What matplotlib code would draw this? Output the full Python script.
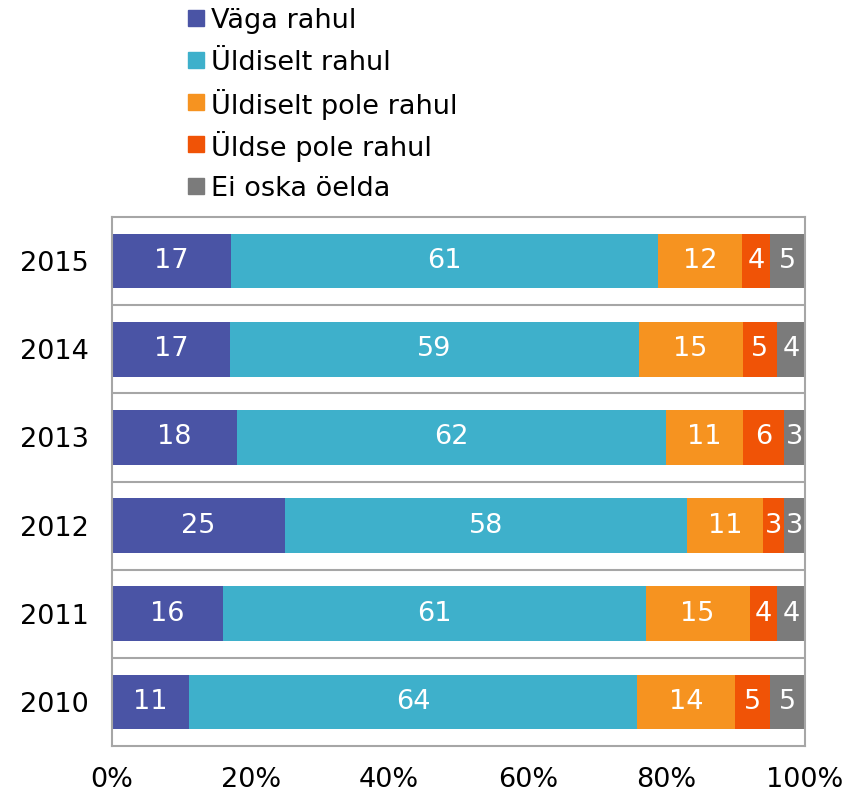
"""Satisfaction by year, 100% stacked horizontal bars."""

import matplotlib
import numpy as np

matplotlib.use("Agg")
from matplotlib import pyplot as plt
from matplotlib.patches import Rectangle
from matplotlib.ticker import FuncFormatter

years = ["2015", "2014", "2013", "2012", "2011", "2010"]
categories = [
    "Väga rahul",
    "Üldiselt rahul",
    "Üldiselt pole rahul",
    "Üldse pole rahul",
    "Ei oska öelda",
]
vaga_rahul = [17, 17, 18, 25, 16, 11]
uldiselt_rahul = [61, 59, 62, 58, 61, 64]
uldiselt_pole = [12, 15, 11, 11, 15, 14]
uldse_pole = [4, 5, 6, 3, 4, 5]
ei_oska = [5, 4, 3, 3, 4, 5]
colors = ["#4A54A5", "#3EB0CB", "#F69320", "#F05306", "#7B7B7B"]

plt.rcParams["font.family"] = ["DejaVu Sans"]
FS = 19.5

series = np.array([vaga_rahul, uldiselt_rahul, uldiselt_pole, uldse_pole, ei_oska], float)
shares = series / series.sum(axis=0)

W, H = 861, 794
fig = plt.figure(figsize=(W / 100, H / 100), dpi=100)
ax = fig.add_axes([112 / W, 1 - 746 / H, 693 / W, 529 / H])

y = np.arange(len(years))[::-1]
left = np.zeros(len(years))
for values, share, color, label in zip(series, shares, colors, categories):
    ax.barh(y, share, left=left, height=0.62, color=color, label=label,
            edgecolor="none")
    for yi, lft, w, v in zip(y, left, share, values):
        ax.text(lft + w / 2, yi, f"{int(v)}", ha="center", va="center",
                color="white", fontsize=FS)
    left += share

ax.set_xlim(0, 1)
ax.set_ylim(-0.5, len(years) - 0.5)
ax.set_yticks(y)
ax.set_yticklabels(years, fontsize=FS)
ax.set_xticks(np.linspace(0, 1, 6))
ax.xaxis.set_major_formatter(FuncFormatter(lambda v, _: f"{v:.0%}"))
ax.tick_params(axis="x", labelsize=FS, length=0, pad=15)
ax.tick_params(axis="y", length=0, pad=17)

for boundary in np.arange(0.5, len(years) - 0.5, 1):
    ax.axhline(boundary, color="#A6A6A6", linewidth=1.5, zorder=0)
for spine in ax.spines.values():
    spine.set_color("#A6A6A6")
    spine.set_linewidth(1.5)

# legend drawn by hand so the rows keep an even step
for i, (label, color) in enumerate(zip(categories, colors)):
    cy = 1 - (18 + 42 * i) / H
    fig.patches.append(Rectangle((188 / W, cy - 8 / H), 16 / W, 16 / H,
                                 transform=fig.transFigure, color=color))
    fig.text(211 / W, cy, label, fontsize=FS, va="center_baseline", ha="left")

fig.savefig("out.png", dpi=100)
